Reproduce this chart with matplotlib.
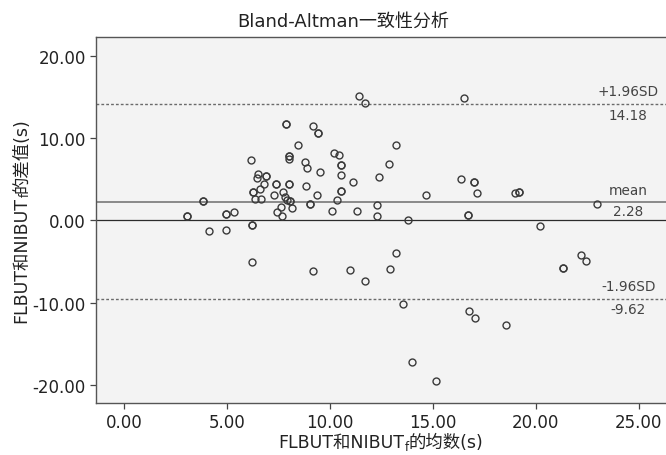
import matplotlib
matplotlib.use("Agg")
import matplotlib.pyplot as plt
from matplotlib.transforms import IdentityTransform

plt.rcParams['font.family'] = ['DejaVu Sans', 'Noto Sans CJK SC']

# Means (x) and differences (y)
mean_vals = [3.03, 3.03, 3.84, 3.84, 4.11, 4.94, 4.94, 5.31, 4.95, 6.23, 6.23, 6.20,
             6.15, 6.43, 6.51, 6.90, 6.90, 6.77, 6.59, 6.26, 6.26, 6.35, 6.64,
             7.37, 7.37, 8.02, 8.02, 8.83, 7.30, 7.70, 7.80, 7.90, 8.06, 8.06,
             8.13, 7.61, 7.40, 7.68, 7.84, 7.84, 9.15, 9.42, 9.42, 8.46, 8.00,
             8.00, 8.00, 8.79, 8.88, 10.20, 10.43, 10.52, 10.52, 10.52, 9.52,
             11.10, 10.53, 10.53, 10.32, 9.36, 9.02, 9.02, 10.11, 11.29, 12.29,
             12.27, 13.81, 14.69, 12.39, 12.89, 13.20, 11.41, 11.68, 16.52,
             16.39, 17.00, 17.00, 17.17, 18.98, 19.19, 19.19, 23.00, 16.73,
             16.73, 20.21, 9.15, 10.96, 11.68, 12.90, 13.21, 13.57, 14.00,
             15.17, 22.19, 22.46, 21.31, 21.31, 16.74, 17.04, 18.58]
diff_vals = [0.49, 0.49, 2.31, 2.31, -1.34, 0.77, 0.77, 1.01, -1.14, -0.55, -0.55, -5.07,
             7.29, 5.20, 5.63, 5.42, 5.42, 4.45, 3.80, 3.40, 3.40, 2.65, 2.55,
             4.39, 4.39, 4.40, 4.40, 4.20, 3.10, 3.40, 2.79, 2.50, 2.36, 2.36,
             1.46, 1.60, 1.07, 0.52, 11.66, 11.66, 11.42, 10.61, 10.61, 9.15, 7.86,
             7.86, 7.40, 7.10, 6.33, 8.20, 7.97, 6.78, 6.78, 5.56, 5.83,
             4.65, 3.58, 3.58, 2.43, 3.09, 1.95, 1.95, 1.15, 1.13, 1.86,
             0.49, 0.04, 3.07, 5.30, 6.88, 9.19, 15.07, 14.25, 14.90,
             5.02, 4.65, 4.65, 3.35, 3.32, 3.44, 3.44, 1.94, 0.64,
             0.64, -0.69, -6.20, -6.08, -7.41, -5.95, -3.97, -10.21, -17.26,
             -19.49, -4.25, -4.95, -5.80, -5.80, -11.02, -11.91, -12.72]

upper_loa = 14.18
mean_diff = 2.28
lower_loa = -9.62

x_ticks = [0, 5, 10, 15, 20, 25]
y_ticks = [-20, -10, 0, 10, 20]

title_text = 'Bland-Altman一致性分析'
xlabel_parts = ['FLBUT和NIBUT', 'f', '的均数(s)']
ylabel_parts = ['FLBUT和NIBUT', 'f', '的差值(s)']

W, H = 666, 456
fig = plt.figure(figsize=(6.66, 4.56), dpi=100)
ax = fig.add_axes([95.7 / W, 52 / H, 1 - 95.7 / W + 0.002, (404 - 38.3) / H])
ax.set_facecolor('#f3f3f3')

ax.set_xlim(-1.39, 26.4)
ax.set_ylim(-22.2, 22.24)

ax.axhline(0, color='#2b2b2b', lw=0.9, zorder=1)
ax.axhline(mean_diff, color='#8a8a8a', lw=1.4, zorder=1)
ax.axhline(upper_loa, color='#6a6a6a', lw=1.0, ls=(0, (2, 1.5)), zorder=1)
ax.axhline(lower_loa, color='#6a6a6a', lw=1.0, ls=(0, (2, 1.5)), zorder=1)

ax.plot(mean_vals, diff_vals, ls='none', marker='o', ms=5.0, mew=1.0,
        mfc='none', mec='#3a3a3a', zorder=3)

label_x = 24.5
lab_kw = dict(textcoords='offset points', ha='center', va='center',
              fontsize=9.8, color='#444444')
ax.annotate('+1.96SD', (label_x, upper_loa), xytext=(0, 9), **lab_kw)
ax.annotate(f'{upper_loa:.2f}', (label_x, upper_loa), xytext=(0, -8.5), **lab_kw)
ax.annotate('mean', (label_x, mean_diff), xytext=(0, 8), **lab_kw)
ax.annotate(f'{mean_diff:.2f}', (label_x, mean_diff), xytext=(0, -7), **lab_kw)
ax.annotate('-1.96SD', (label_x, lower_loa), xytext=(0, 9.5), **lab_kw)
ax.annotate(f'{lower_loa:.2f}', (label_x, lower_loa), xytext=(0, -6.5), **lab_kw)

ax.set_xticks(x_ticks)
ax.set_xticklabels([f'{v:.2f}' for v in x_ticks])
ax.set_yticks(y_ticks)
ax.set_yticklabels([f'{v:.2f}' for v in y_ticks])
ax.tick_params(direction='out', length=4, width=0.9, color='#444444',
               labelsize=12, labelcolor='#222222', pad=3)

for side in ['left', 'bottom', 'top']:
    ax.spines[side].set_color('#555555')
    ax.spines[side].set_linewidth(1.0)
ax.spines['right'].set_visible(False)

renderer = fig.canvas.get_renderer()
ident = IdentityTransform()


def rich_label(parts, center, base, vertical=False, size=12.5, sub_size=8.5,
               sub_shift=3.0, color='#222222'):
    """Draw main / subscript / main pieces along a baseline (pixels)."""
    sizes = [size, sub_size, size]
    shifts = [0, -sub_shift, 0]
    texts = []
    for s, fs in zip(parts, sizes):
        t = fig.text(0, 0, s, fontsize=fs, color=color, transform=ident,
                     ha='left', va='baseline', rotation=90 if vertical else 0,
                     rotation_mode='anchor')
        texts.append(t)
    lengths = []
    for t in texts:
        bb = t.get_window_extent(renderer)
        lengths.append(bb.height if vertical else bb.width)
    total = sum(lengths)
    pos = center - total / 2
    for t, L, sh in zip(texts, lengths, shifts):
        if vertical:
            t.set_position((base - sh, pos))
        else:
            t.set_position((pos, base + sh))
        pos += L


rich_label(xlabel_parts, center=(95.7 + 666.6) / 2, base=H - 448)
rich_label(ylabel_parts, center=H - 221, base=26, vertical=True)

fig.text(343 / W, 1 - 22 / H, title_text, ha='center', va='center',
         fontsize=13, color='#222222')

fig.savefig('out.png', dpi=100, facecolor='white')
